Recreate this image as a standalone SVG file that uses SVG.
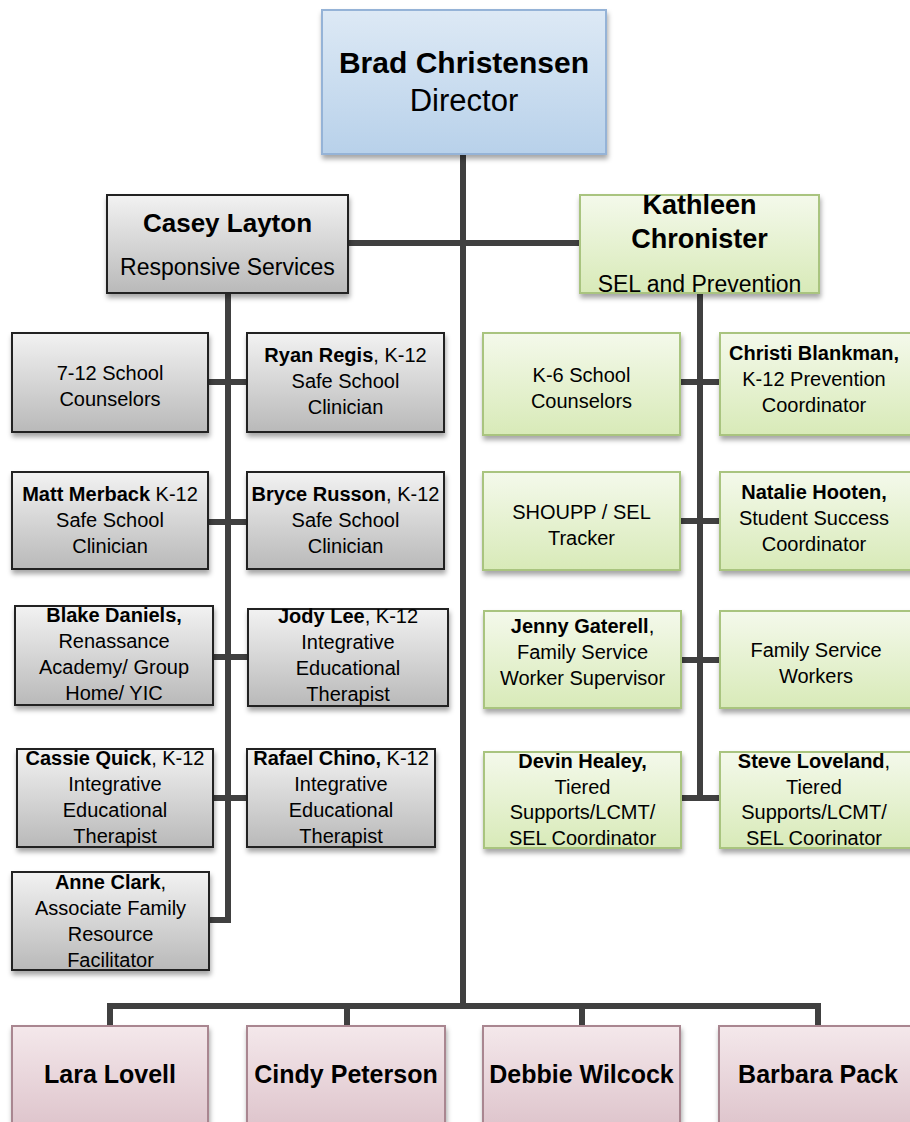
<svg xmlns="http://www.w3.org/2000/svg" width="910" height="1122" viewBox="0 0 910 1122">
<defs>
<linearGradient id="gBlue" x1="0" y1="0" x2="0" y2="1"><stop offset="0" stop-color="#dde9f5"/><stop offset="1" stop-color="#b8d1ea"/></linearGradient>
<linearGradient id="gGray" x1="0" y1="0" x2="0" y2="1"><stop offset="0" stop-color="#f2f2f2"/><stop offset="1" stop-color="#b9b9b9"/></linearGradient>
<linearGradient id="gGreen" x1="0" y1="0" x2="0" y2="1"><stop offset="0" stop-color="#f4f9eb"/><stop offset="1" stop-color="#d8eab8"/></linearGradient>
<linearGradient id="gPink" x1="0" y1="0" x2="0" y2="1"><stop offset="0" stop-color="#f4e8eb"/><stop offset="1" stop-color="#dcc1c9"/></linearGradient>
<filter id="sh" x="-10%" y="-10%" width="125%" height="130%"><feDropShadow dx="1" dy="4" stdDeviation="2.5" flood-color="#000" flood-opacity="0.35"/></filter>
</defs>
<style>
text{font-family:"Liberation Sans",Arial,sans-serif;fill:#000;text-anchor:middle}
.s{font-size:20px}
.b{font-weight:bold}
.blue{fill:url(#gBlue);stroke:#95b3d7;stroke-width:2;filter:url(#sh)}
.gray{fill:url(#gGray);stroke:#222;stroke-width:2;filter:url(#sh)}
.green{fill:url(#gGreen);stroke:#a9c47f;stroke-width:2;filter:url(#sh)}
.pink{fill:url(#gPink);stroke:#a98690;stroke-width:2;filter:url(#sh)}
.c{fill:none;stroke:#404040;stroke-width:6;stroke-linejoin:miter;stroke-linecap:butt}
</style>
<rect width="910" height="1122" fill="#fff"/>

<g id="connectors">
<path class="c" d="M463,154 V1006"/>
<path class="c" d="M348,243 H580"/>
<path class="c" d="M228,293 V920 H209"/>
<path class="c" d="M208,382 H247 M208,522 H247 M213,657 H248 M213,798 H247"/>
<path class="c" d="M700,293 V798"/>
<path class="c" d="M680,382 H720 M680,521 H720 M681,660 H720 M681,798 H720"/>
<path class="c" d="M110,1026 V1006 H818 V1026 M347,1006 V1026 M582,1006 V1026"/>
</g>

<g id="director">
<rect class="blue" x="322" y="10" width="284" height="144"/>
<text x="464" y="73" class="b" font-size="30">Brad Christensen</text>
<text x="464" y="111" font-size="31">Director</text>
</g>

<g id="casey">
<rect class="gray" x="107" y="195" width="241" height="98"/>
<text x="227.5" y="232" class="b" font-size="26">Casey Layton</text>
<text x="227.5" y="275" font-size="23">Responsive Services</text>
</g>

<g id="kathleen">
<rect class="green" x="580" y="195" width="239" height="98"/>
<text x="699.5" y="214" class="b" font-size="27">Kathleen</text>
<text x="699.5" y="248" class="b" font-size="27">Chronister</text>
<text x="699.5" y="292" font-size="23">SEL and Prevention</text>
</g>

<g id="counselors712">
<rect class="gray" x="12" y="333" width="196" height="99"/>
<text class="s" x="110" y="380"><tspan>7-12 School</tspan><tspan x="110" dy="26">Counselors</tspan></text>
</g>
<g id="ryan">
<rect class="gray" x="247" y="333" width="197" height="99"/>
<text class="s" x="345.5" y="362"><tspan class="b">Ryan Regis</tspan>, K-12<tspan x="345.5" dy="26">Safe School</tspan><tspan x="345.5" dy="26">Clinician</tspan></text>
</g>
<g id="matt">
<rect class="gray" x="12" y="472" width="196" height="97"/>
<text class="s" x="110" y="501"><tspan class="b">Matt Merback</tspan> K-12<tspan x="110" dy="26">Safe School</tspan><tspan x="110" dy="26">Clinician</tspan></text>
</g>
<g id="bryce">
<rect class="gray" x="247" y="472" width="197" height="97"/>
<text class="s" x="345.5" y="501"><tspan class="b">Bryce Russon</tspan>, K-12<tspan x="345.5" dy="26">Safe School</tspan><tspan x="345.5" dy="26">Clinician</tspan></text>
</g>
<g id="blake">
<rect class="gray" x="15" y="606" width="198" height="99"/>
<text class="s" x="114" y="622"><tspan class="b">Blake Daniels,</tspan><tspan x="114" dy="26">Renassance</tspan><tspan x="114" dy="26">Academy/ Group</tspan><tspan x="114" dy="26">Home/ YIC</tspan></text>
</g>
<g id="jody">
<rect class="gray" x="248" y="609" width="200" height="97"/>
<text class="s" x="348" y="623"><tspan class="b">Jody Lee</tspan>, K-12<tspan x="348" dy="26">Integrative</tspan><tspan x="348" dy="26">Educational</tspan><tspan x="348" dy="26">Therapist</tspan></text>
</g>
<g id="cassie">
<rect class="gray" x="17" y="749" width="196" height="98"/>
<text class="s" x="115" y="765"><tspan class="b">Cassie Quick</tspan>, K-12<tspan x="115" dy="26">Integrative</tspan><tspan x="115" dy="26">Educational</tspan><tspan x="115" dy="26">Therapist</tspan></text>
</g>
<g id="rafael">
<rect class="gray" x="247" y="749" width="188" height="98"/>
<text class="s" x="341" y="765"><tspan class="b">Rafael Chino,</tspan> K-12<tspan x="341" dy="26">Integrative</tspan><tspan x="341" dy="26">Educational</tspan><tspan x="341" dy="26">Therapist</tspan></text>
</g>
<g id="anne">
<rect class="gray" x="12" y="872" width="197" height="98"/>
<text class="s" x="110.5" y="889"><tspan class="b">Anne Clark</tspan>,<tspan x="110.5" dy="26">Associate Family</tspan><tspan x="110.5" dy="26">Resource</tspan><tspan x="110.5" dy="26">Facilitator</tspan></text>
</g>

<g id="counselorsK6">
<rect class="green" x="483" y="333" width="197" height="102"/>
<text class="s" x="581.5" y="382"><tspan>K-6 School</tspan><tspan x="581.5" dy="26">Counselors</tspan></text>
</g>
<g id="christi">
<rect class="green" x="720" y="333" width="196" height="102"/>
<text class="s" x="814" y="360"><tspan class="b">Christi Blankman,</tspan><tspan x="814" dy="26">K-12 Prevention</tspan><tspan x="814" dy="26">Coordinator</tspan></text>
</g>
<g id="shoupp">
<rect class="green" x="483" y="472" width="197" height="98"/>
<text class="s" x="581.5" y="519"><tspan>SHOUPP / SEL</tspan><tspan x="581.5" dy="26">Tracker</tspan></text>
</g>
<g id="natalie">
<rect class="green" x="720" y="472" width="196" height="98"/>
<text class="s" x="814" y="499"><tspan class="b">Natalie Hooten,</tspan><tspan x="814" dy="26">Student Success</tspan><tspan x="814" dy="26">Coordinator</tspan></text>
</g>
<g id="jenny">
<rect class="green" x="484" y="611" width="197" height="97"/>
<text class="s" x="582.5" y="633"><tspan class="b">Jenny Gaterell</tspan>,<tspan x="582.5" dy="26">Family Service</tspan><tspan x="582.5" dy="26">Worker Supervisor</tspan></text>
</g>
<g id="familyworkers">
<rect class="green" x="720" y="611" width="196" height="97"/>
<text class="s" x="816" y="657"><tspan>Family Service</tspan><tspan x="816" dy="26">Workers</tspan></text>
</g>
<g id="devin">
<rect class="green" x="484" y="752" width="197" height="96"/>
<text class="s" x="582.5" y="768"><tspan class="b">Devin Healey,</tspan><tspan x="582.5" dy="25.5">Tiered</tspan><tspan x="582.5" dy="25.5">Supports/LCMT/</tspan><tspan x="582.5" dy="25.5">SEL Coordinator</tspan></text>
</g>
<g id="steve">
<rect class="green" x="720" y="752" width="196" height="96"/>
<text class="s" x="814" y="768"><tspan class="b">Steve Loveland</tspan>,<tspan x="814" dy="25.5">Tiered</tspan><tspan x="814" dy="25.5">Supports/LCMT/</tspan><tspan x="814" dy="25.5">SEL Coorinator</tspan></text>
</g>

<g id="lara">
<rect class="pink" x="12" y="1026" width="196" height="110"/>
<text x="110" y="1083" class="b" font-size="25">Lara Lovell</text>
</g>
<g id="cindy">
<rect class="pink" x="247" y="1026" width="198" height="110"/>
<text x="346" y="1083" class="b" font-size="25">Cindy Peterson</text>
</g>
<g id="debbie">
<rect class="pink" x="483" y="1026" width="197" height="110"/>
<text x="581.5" y="1083" class="b" font-size="25">Debbie Wilcock</text>
</g>
<g id="barbara">
<rect class="pink" x="719" y="1026" width="197" height="110"/>
<text x="818" y="1083" class="b" font-size="25">Barbara Pack</text>
</g>
</svg>
